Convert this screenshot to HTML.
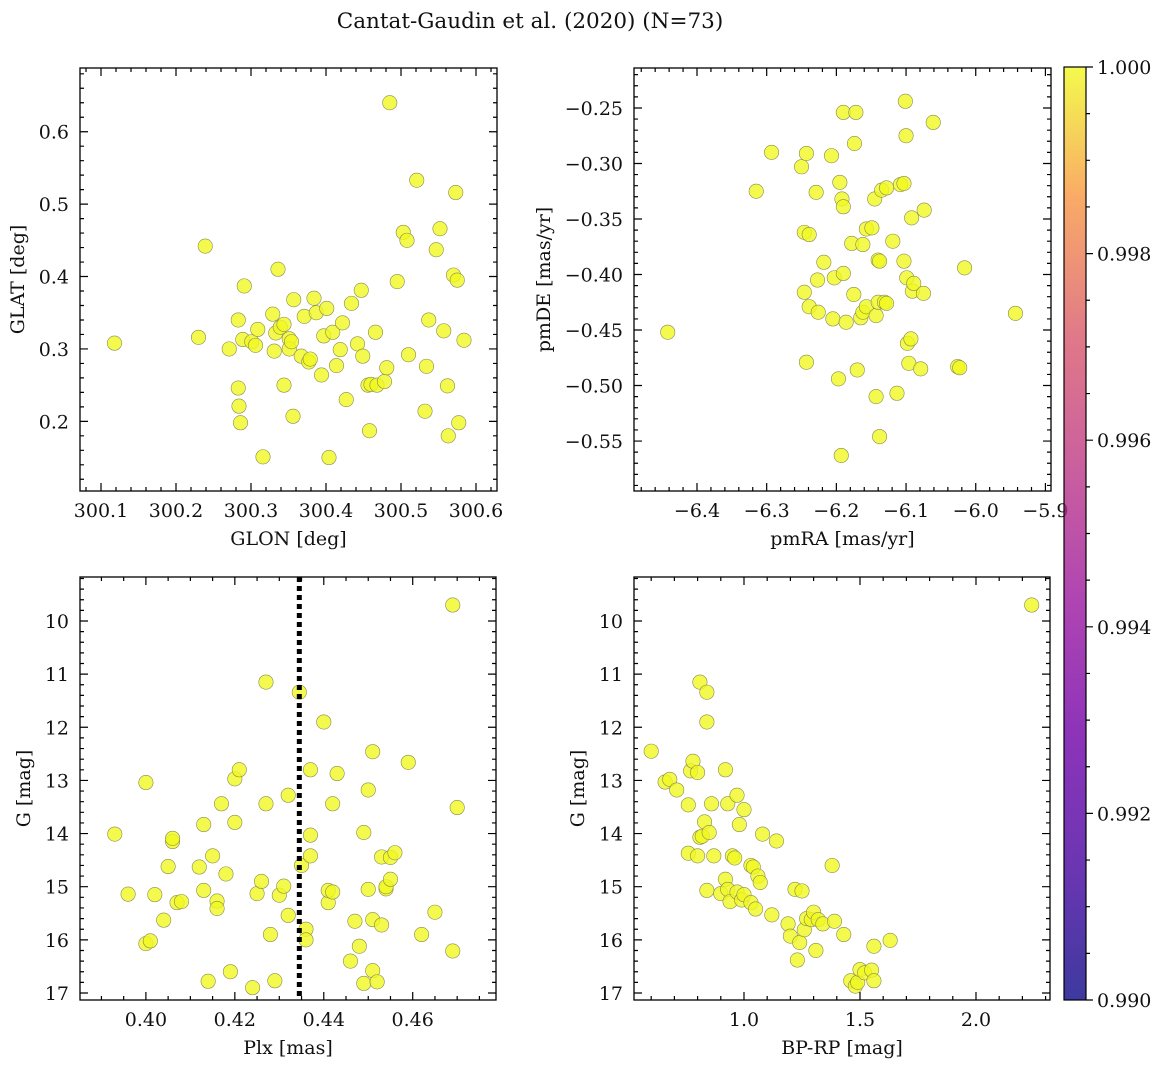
<!DOCTYPE html>
<html><head><meta charset="utf-8"><style>
html,body{margin:0;padding:0;background:#fff;}
svg text{font-family:"DejaVu Serif","Liberation Serif",serif;fill:#111;}
</style></head><body>
<svg id="fig" width="1161" height="1067" viewBox="0 0 1161 1067" xmlns="http://www.w3.org/2000/svg">
<defs>
<linearGradient id="plasma" x1="0" y1="1" x2="0" y2="0">
<stop offset="0" stop-color="#0d0887"/><stop offset="0.14" stop-color="#46039f"/><stop offset="0.29" stop-color="#7201a8"/><stop offset="0.43" stop-color="#9c179e"/><stop offset="0.57" stop-color="#bd3786"/><stop offset="0.71" stop-color="#d8576b"/><stop offset="0.86" stop-color="#f89540"/><stop offset="1" stop-color="#f0f921"/>
</linearGradient>
</defs>
<text x="530" y="28" font-size="21.5" text-anchor="middle">Cantat-Gaudin et al. (2020) (N=73)</text>
<g id="panels"></g>
<g id="cbar">
<rect x="1064" y="67" width="22" height="933" fill="url(#plasma)" opacity="0.8"/>
<rect x="1064" y="67" width="22" height="933" fill="none" stroke="#000" stroke-width="1.2"/>
</g>
</svg>
<script>
const glon=[300.118,300.230,300.239,300.271,300.283,300.284,300.286,300.283,300.289,300.291,300.301,300.306,300.309,300.316,300.329,300.331,300.333,300.336,300.339,300.344,300.344,300.351,300.351,300.354,300.356,300.357,300.367,300.371,300.377,300.379,300.384,300.387,300.394,300.397,300.401,300.404,300.409,300.414,300.419,300.422,300.427,300.434,300.442,300.447,300.449,300.456,300.458,300.460,300.466,300.468,300.478,300.481,300.485,300.495,300.503,300.508,300.510,300.521,300.532,300.534,300.537,300.547,300.552,300.557,300.562,300.563,300.570,300.573,300.575,300.577,300.584];
const glat=[0.308,0.316,0.442,0.300,0.246,0.221,0.198,0.340,0.313,0.387,0.310,0.305,0.327,0.151,0.348,0.297,0.322,0.410,0.330,0.334,0.250,0.314,0.300,0.310,0.207,0.368,0.290,0.345,0.282,0.286,0.370,0.350,0.264,0.318,0.356,0.150,0.323,0.277,0.299,0.336,0.230,0.363,0.307,0.381,0.290,0.250,0.187,0.251,0.323,0.250,0.255,0.274,0.640,0.393,0.461,0.450,0.292,0.533,0.214,0.276,0.340,0.437,0.466,0.325,0.249,0.180,0.402,0.516,0.395,0.198,0.312];
const pmra=[-6.442,-6.315,-6.293,-6.250,-6.243,-6.246,-6.239,-6.229,-6.246,-6.239,-6.227,-6.226,-6.218,-6.243,-6.207,-6.205,-6.203,-6.197,-6.195,-6.190,-6.192,-6.190,-6.190,-6.186,-6.193,-6.178,-6.175,-6.174,-6.172,-6.170,-6.165,-6.162,-6.162,-6.157,-6.157,-6.149,-6.145,-6.143,-6.143,-6.140,-6.140,-6.138,-6.138,-6.135,-6.131,-6.128,-6.128,-6.119,-6.113,-6.108,-6.103,-6.103,-6.101,-6.100,-6.099,-6.098,-6.096,-6.093,-6.092,-6.091,-6.089,-6.079,-6.075,-6.074,-6.061,-6.026,-6.023,-6.016,-5.943];
const pmde=[-0.452,-0.325,-0.290,-0.303,-0.291,-0.362,-0.364,-0.326,-0.416,-0.429,-0.405,-0.434,-0.389,-0.479,-0.293,-0.440,-0.403,-0.494,-0.317,-0.254,-0.332,-0.339,-0.399,-0.443,-0.563,-0.372,-0.418,-0.282,-0.254,-0.486,-0.439,-0.373,-0.434,-0.429,-0.359,-0.358,-0.332,-0.437,-0.510,-0.387,-0.425,-0.388,-0.546,-0.324,-0.425,-0.426,-0.322,-0.370,-0.507,-0.319,-0.318,-0.388,-0.244,-0.275,-0.403,-0.462,-0.480,-0.458,-0.349,-0.415,-0.408,-0.485,-0.417,-0.342,-0.263,-0.483,-0.484,-0.394,-0.435];
const plx=[0.393,0.396,0.400,0.400,0.401,0.402,0.404,0.405,0.406,0.406,0.407,0.408,0.412,0.413,0.413,0.414,0.415,0.416,0.416,0.417,0.418,0.419,0.420,0.420,0.421,0.424,0.425,0.426,0.427,0.427,0.428,0.429,0.430,0.431,0.432,0.432,0.4345,0.435,0.436,0.436,0.437,0.437,0.437,0.440,0.441,0.441,0.442,0.442,0.443,0.446,0.447,0.448,0.449,0.449,0.450,0.450,0.451,0.451,0.451,0.452,0.453,0.453,0.454,0.454,0.455,0.455,0.456,0.459,0.462,0.465,0.469,0.469,0.470];
const gmagA=[14.01,15.14,13.04,16.07,16.02,15.15,15.63,14.62,14.15,14.09,15.30,15.28,14.63,15.07,13.83,16.78,14.42,15.27,15.41,13.44,14.76,16.60,13.79,12.97,12.80,16.90,15.13,14.90,11.15,13.44,15.90,16.77,15.16,14.99,13.28,15.54,11.34,14.60,15.80,16.00,14.03,12.80,14.42,11.90,15.30,15.07,13.44,15.10,12.87,16.40,15.65,16.12,13.98,16.82,13.18,15.05,12.46,15.62,16.58,16.79,14.44,15.72,15.04,15.00,14.45,14.86,14.36,12.66,15.90,15.48,9.70,16.21,13.51];
const bprp=[0.60,0.66,0.68,0.71,0.76,0.76,0.77,0.78,0.80,0.80,0.81,0.81,0.82,0.83,0.84,0.84,0.84,0.85,0.86,0.87,0.90,0.92,0.92,0.93,0.93,0.94,0.95,0.96,0.97,0.97,0.98,0.99,1.00,1.00,1.03,1.03,1.04,1.05,1.06,1.07,1.08,1.12,1.14,1.19,1.20,1.22,1.23,1.24,1.25,1.26,1.27,1.29,1.30,1.31,1.32,1.34,1.38,1.39,1.43,1.46,1.48,1.49,1.50,1.52,1.55,1.56,1.56,1.63,2.24];
const gmagB=[12.45,13.03,12.98,13.18,13.46,14.37,12.82,12.64,12.85,14.42,14.07,11.15,14.05,13.78,15.07,11.34,11.90,13.98,13.44,14.42,15.13,12.80,14.86,13.44,15.05,15.28,14.42,14.46,15.10,13.28,13.83,15.25,13.55,15.15,14.60,15.30,14.63,15.42,14.80,14.92,14.01,15.53,14.14,15.70,15.93,15.05,16.38,16.05,15.08,15.81,15.60,15.62,15.48,16.20,15.62,15.70,14.60,15.65,15.90,16.77,16.87,16.80,16.56,16.62,16.57,16.77,16.12,16.01,9.70];
const plxLine=0.4345;
const cbTicks=[0.990,0.992,0.994,0.996,0.998,1.000];

const NS='http://www.w3.org/2000/svg';
const root=document.getElementById('panels');
const FS=19;
function mk(tag,attrs,parent){const e=document.createElementNS(NS,tag);for(const k in attrs)e.setAttribute(k,attrs[k]);(parent||root).appendChild(e);return e;}
function scale(d0,d1,p0,p1){return v=>p0+(v-d0)/(d1-d0)*(p1-p0);}
function range(a,b,s){const r=[];for(let v=a;v<=b+s*1e-6;v+=s)r.push(+v.toFixed(6));return r;}

function panel(o){
  const g=mk('g',{});
  
  
  const sx=scale(o.xd[0],o.xd[1],o.L,o.R);
  const sy=scale(o.yd[0],o.yd[1],o.T,o.B);
  const pts=mk('g',{},g);
  
  
  o.xs.forEach((xv,i)=>{
    const c=mk('circle',{cx:sx(xv),cy:sy(o.ys[i]),r:7.2,fill:'#f0f921','fill-opacity':0.8,stroke:'#8a8a50','stroke-width':0.6},pts);
    
    
  });
  if(o.vline!==undefined){
    const l=mk('line',{x1:sx(o.vline),x2:sx(o.vline),y1:o.T,y2:o.B,stroke:'#000','stroke-width':5,'stroke-dasharray':'5,4'},g);
    
    
  }
  mk('rect',{x:o.L,y:o.T,width:o.R-o.L,height:o.B-o.T,fill:'none',stroke:'#000','stroke-width':1.3},g);
  let p='';
  const inX=v=>{const x=sx(v);return x>=o.L-0.5&&x<=o.R+0.5;};
  const inY=v=>{const y=sy(v);return y>=Math.min(o.T,o.B)-0.5&&y<=Math.max(o.T,o.B)+0.5;};
  range(o.xm[0],o.xm[1],o.xm[2]).filter(inX).forEach(v=>{const x=sx(v);p+=`M${x},${o.B}v-4M${x},${o.T}v4`;});
  range(o.ym[0],o.ym[1],o.ym[2]).filter(inY).forEach(v=>{const y=sy(v);p+=`M${o.L},${y}h4M${o.R},${y}h-4`;});
  o.xt.filter(inX).forEach(v=>{const x=sx(v);p+=`M${x},${o.B}v-8M${x},${o.T}v8`;});
  o.yt.filter(inY).forEach(v=>{const y=sy(v);p+=`M${o.L},${y}h8M${o.R},${y}h-8`;});
  mk('path',{d:p,stroke:'#000','stroke-width':1.2,fill:'none'},g);
  const xa=mk('g',{},g);
  
  
  o.xt.filter(inX).forEach(v=>{const t=mk('text',{x:sx(v),y:o.B+26,'font-size':FS,'text-anchor':'middle'},xa);t.textContent=o.fx(v);});
  const ya=mk('g',{},g);
  
  
  o.yt.filter(inY).forEach(v=>{const t=mk('text',{x:o.L-11,y:sy(v)+7,'font-size':FS,'text-anchor':'end'},ya);t.textContent=o.fy(v);});
  const xl=mk('text',{x:(o.L+o.R)/2,y:o.B+54,'font-size':FS,'text-anchor':'middle'},g);
  xl.textContent=o.xlabel;
  
  
  const yx=o.ylx, ycy=(o.T+o.B)/2;
  const yl=mk('text',{x:yx,y:ycy,'font-size':FS,'text-anchor':'middle',transform:`rotate(-90 ${yx} ${ycy})`},g);
  yl.textContent=o.ylabel;
  
  
}
const neg=s=>s.replace('-','\u2212');
panel({name:'glon-glat-panel',L:80,R:497,T:68,B:491,xd:[300.072,300.628],yd:[0.688,0.1038],
  xt:range(300.1,300.6,0.1),yt:range(0.2,0.6,0.1),xm:[300.08,300.62,0.02],ym:[0.1,0.68,0.02],
  xs:glon,ys:glat,fx:v=>v.toFixed(1),fy:v=>v.toFixed(1),xlabel:'GLON [deg]',ylabel:'GLAT [deg]',ylx:24});
panel({name:'proper-motion-panel',L:634,R:1051,T:68,B:491,xd:[-6.4904,-5.892],yd:[-0.214,-0.595],
  xt:range(-6.4,-5.9,0.1),yt:range(-0.55,-0.25,0.05),xm:[-6.48,-5.9,0.02],ym:[-0.59,-0.22,0.01],
  xs:pmra,ys:pmde,fx:v=>neg(v.toFixed(1)),fy:v=>neg(v.toFixed(2)),xlabel:'pmRA [mas/yr]',ylabel:'pmDE [mas/yr]',ylx:550});
panel({name:'parallax-magnitude-panel',L:80,R:496,T:577,B:1000,xd:[0.38518,0.47873],yd:[9.172,17.132],
  xt:range(0.40,0.46,0.02),yt:range(10,17,1),xm:[0.385,0.475,0.005],ym:[9.2,17.1,0.2],
  xs:plx,ys:gmagA,vline:plxLine,fx:v=>v.toFixed(2),fy:v=>String(Math.round(v)),xlabel:'Plx [mas]',ylabel:'G [mag]',ylx:30});
panel({name:'color-magnitude-panel',L:634,R:1050,T:577,B:1000,xd:[0.5259,2.319],yd:[9.172,17.132],
  xt:[1.0,1.5,2.0],yt:range(10,17,1),xm:[0.6,2.3,0.1],ym:[9.2,17.1,0.2],
  xs:bprp,ys:gmagB,fx:v=>v.toFixed(1),fy:v=>String(Math.round(v)),xlabel:'BP-RP [mag]',ylabel:'G [mag]',ylx:584});

const cb=document.getElementById('cbar');
const cy=scale(0.990,1.000,1000,67);
let cp='';
range(0.9905,0.9995,0.0005).forEach(v=>{cp+=`M1086,${cy(v)}h4`;});
cbTicks.forEach(v=>{cp+=`M1086,${cy(v)}h7`;});
mk('path',{d:cp,stroke:'#000','stroke-width':1.2},cb);
cbTicks.forEach(v=>{const t=mk('text',{x:1097,y:cy(v)+7,'font-size':FS},cb);t.textContent=v.toFixed(3);
  
  });
</script>
</body></html>
